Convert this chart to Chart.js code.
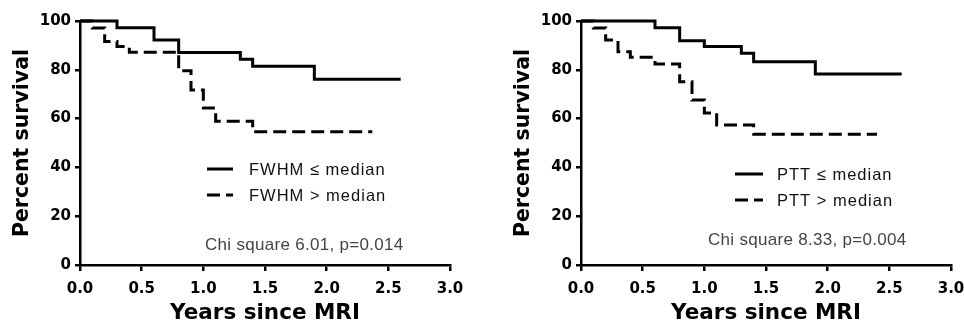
<!DOCTYPE html>
<html>
<head>
<meta charset="utf-8">
<script src="https://cdn.jsdelivr.net/npm/chart.js@4/dist/chart.umd.min.js"></script>
<style>
  html, body { margin: 0; padding: 0; background: #fff; overflow: hidden; }
  #wrap { position: relative; width: 964px; height: 323px; overflow: hidden; }
  canvas { position: absolute; top: 0; }
  #left { left: 0; }
  #right { left: 501px; }
</style>
</head>
<body>
<div id="wrap">
  <canvas id="left" width="500" height="323"></canvas>
  <canvas id="right" width="500" height="323"></canvas>
</div>
<script>
// Kaplan-Meier curves (years, percent survival)
const fwhmLowTimes = [0, 0.3, 0.6, 0.8, 1.3, 1.4, 1.9, 2.6];
const fwhmLowSurv  = [100, 97.2, 92.2, 87.1, 84.3, 81.5, 76.1, 76.1];
const fwhmHighTimes = [0, 0.1, 0.2, 0.3, 0.4, 0.8, 0.9, 1.0, 1.1, 1.4, 2.37];
const fwhmHighSurv  = [100, 97.1, 91.6, 89.6, 87.2, 79.6, 71.7, 64.3, 58.9, 54.6, 54.6];

const pttLowTimes = [0, 0.6, 0.8, 1.0, 1.3, 1.4, 1.9, 2.6];
const pttLowSurv  = [100, 97.2, 91.9, 89.6, 86.8, 83.3, 78.3, 78.3];
const pttHighTimes = [0, 0.1, 0.2, 0.3, 0.4, 0.6, 0.8, 0.9, 1.0, 1.1, 1.4, 2.4];
const pttHighSurv  = [100, 97.1, 92.2, 87.4, 85.1, 82.4, 75.1, 67.6, 62.3, 57.4, 53.6, 53.6];

const xTicks = [0, 0.5, 1.0, 1.5, 2.0, 2.5, 3.0];
const yTicks = [0, 20, 40, 60, 80, 100];

const toPoints = (xs, ys) => xs.map((x, i) => ({ x, y: ys[i] }));

// legend + statistic drawn inside the plot
const annotate = {
  id: 'annotate',
  afterDatasetsDraw(chart, args, opts) {
    const ctx = chart.ctx;
    ctx.save();
    chart.data.datasets.forEach((ds, i) => {
      const y = opts.rowY[i];
      ctx.beginPath();
      ctx.lineWidth = 3;
      ctx.strokeStyle = '#000';
      ctx.setLineDash(ds.borderDash || []);
      ctx.moveTo(opts.lineX, y);
      ctx.lineTo(opts.lineX + opts.lineLen, y);
      ctx.stroke();
      ctx.setLineDash([]);
      ctx.font = '16.5px "Liberation Sans", Arial, sans-serif';
      ctx.letterSpacing = '1px';
      ctx.fillStyle = '#111';
      ctx.textBaseline = 'middle';
      ctx.textAlign = 'left';
      ctx.fillText(ds.label, opts.textX, y + 1);
    });
    ctx.font = '17px "Liberation Sans", Arial, sans-serif';
    ctx.letterSpacing = '0.3px';
    ctx.fillStyle = '#444';
    ctx.fillText(opts.stat, opts.statX, opts.statY);
    ctx.restore();
  }
};

function makeChart(id, labels, sets, legend) {
  new Chart(document.getElementById(id), {
    type: 'line',
    data: {
      datasets: [
        { label: labels[0], data: toPoints(sets[0], sets[1]), borderColor: '#000', borderWidth: 3,
          stepped: true, pointRadius: 0, fill: false, clip: false },
        { label: labels[1], data: toPoints(sets[2], sets[3]), borderColor: '#000', borderWidth: 3,
          borderDash: [13, 6], stepped: true, pointRadius: 0, fill: false, clip: false }
      ]
    },
    options: {
      responsive: false,
      animation: false,
      layout: { padding: { left: 0, top: 21, right: 50, bottom: 0 } },
      plugins: { legend: { display: false }, tooltip: { enabled: false }, annotate: legend },
      scales: {
        x: {
          type: 'linear', min: 0, max: 3,
          afterBuildTicks: s => { s.ticks = xTicks.map(v => ({ value: v })); },
          afterFit: s => { s.height = 58; },
          grid: { drawOnChartArea: false, color: '#000', lineWidth: 2.5, tickLength: 6 },
          border: { color: '#000', width: 2.5 },
          ticks: { color: '#000', padding: 9, maxRotation: 0,
            font: { family: '"DejaVu Sans"', weight: 'bold', size: 15 },
            callback: v => v.toFixed(1) },
          title: { display: true, text: 'Years since MRI', color: '#000',
            font: { family: '"DejaVu Sans"', weight: 'bold', size: 21.5, lineHeight: 0.87 },
            padding: { top: 0, bottom: 0 } }
        },
        y: {
          min: 0, max: 100,
          afterBuildTicks: s => { s.ticks = yTicks.map(v => ({ value: v })); },
          afterFit: s => { s.width = 80; },
          grid: { drawOnChartArea: false, color: '#000', lineWidth: 2.5, tickLength: 5 },
          border: { color: '#000', width: 2.5 },
          ticks: { color: '#000', padding: 4,
            font: { family: '"DejaVu Sans"', weight: 'bold', size: 15 } },
          title: { display: true, text: 'Percent survival', color: '#000',
            font: { family: '"DejaVu Sans"', weight: 'bold', size: 20.5, lineHeight: 1 },
            padding: { top: 12, bottom: 0 } }
        }
      }
    },
    plugins: [annotate]
  });
}

makeChart('left', ['FWHM ≤ median', 'FWHM > median'],
  [fwhmLowTimes, fwhmLowSurv, fwhmHighTimes, fwhmHighSurv],
  { lineX: 207, lineLen: 26, textX: 249, rowY: [169, 195], stat: 'Chi square 6.01, p=0.014', statX: 205, statY: 245 });

makeChart('right', ['PTT ≤ median', 'PTT > median'],
  [pttLowTimes, pttLowSurv, pttHighTimes, pttHighSurv],
  { lineX: 234, lineLen: 28, textX: 276, rowY: [174, 200], stat: 'Chi square 8.33, p=0.004', statX: 207, statY: 240 });
</script>
</body>
</html>
